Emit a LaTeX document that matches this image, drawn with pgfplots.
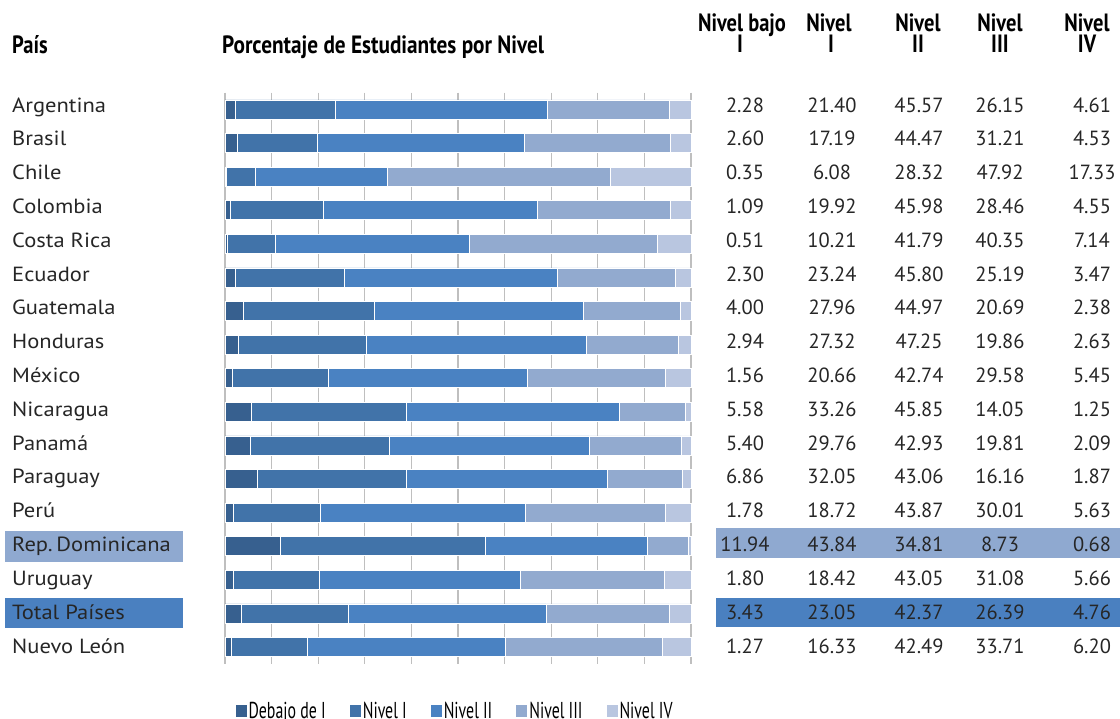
\documentclass[border=0pt]{standalone}
\usepackage{graphicx}
\usepackage{pgfplots}
\pgfplotsset{compat=1.18}
\usepackage{pgfplotstable}
\usepackage{fontspec}
\setmainfont{PT Sans}

\definecolor{cA}{RGB}{55,96,143}
\definecolor{cB}{RGB}{65,115,169}
\definecolor{cC}{RGB}{74,130,194}
\definecolor{cD}{RGB}{146,170,207}
\definecolor{cE}{RGB}{185,198,224}
\definecolor{gridgray}{RGB}{191,191,191}
\definecolor{hlDom}{RGB}{143,169,208}
\definecolor{hlTot}{RGB}{74,128,192}

% condensed bold headings and condensed legend text
\newcommand\hd[2][0.82]{\scalebox{#1}[1]{\fontsize{25pt}{26pt}\selectfont\bfseries #2}}
\newcommand\legtext[1]{\scalebox{0.69}[1]{\fontsize{23pt}{24pt}\selectfont #1}}
\newcommand\bodyfont{\fontsize{20.5pt}{21pt}\selectfont}
\newcommand\country[1]{\scalebox{1.1}[1]{#1}}

% percentage of students per level
\pgfplotstableread{
idx b1 b2 b3 b4 b5
0 2.28 21.40 45.57 26.15 4.61
1 2.60 17.19 44.47 31.21 4.53
2 0.35 6.08 28.32 47.92 17.33
3 1.09 19.92 45.98 28.46 4.55
4 0.51 10.21 41.79 40.35 7.14
5 2.30 23.24 45.80 25.19 3.47
6 4.00 27.96 44.97 20.69 2.38
7 2.94 27.32 47.25 19.86 2.63
8 1.56 20.66 42.74 29.58 5.45
9 5.58 33.26 45.85 14.05 1.25
10 5.40 29.76 42.93 19.81 2.09
11 6.86 32.05 43.06 16.16 1.87
12 1.78 18.72 43.87 30.01 5.63
13 11.94 43.84 34.81 8.73 0.68
14 1.80 18.42 43.05 31.08 5.66
15 3.43 23.05 42.37 26.39 4.76
16 1.27 16.33 42.49 33.71 6.20
}\datos

\pgfplotsset{
  common/.style={
    anchor=south west, scale only axis, width=466pt,
    xmin=0, xmax=100, ymin=-0.5, ymax=16.5, y dir=reverse,
    clip=false,
  },
  valcol/.style={
    draw=none, mark=none, forget plot,
    point meta=explicit,
    nodes near coords={\pgfmathprintnumber[fixed,fixed zerofill,precision=2,assume math mode=true]{\pgfplotspointmeta}},
    nodes near coords style={anchor=base, yshift=-7pt, inner sep=0pt, font=\bodyfont, text=black!85},
  },
}

\begin{document}
\begin{tikzpicture}[x=1pt,y=1pt]
\path[use as bounding box] (0pt,0pt) rectangle (1120pt,-719pt);

% highlighted rows
\fill[hlDom] (5pt,-531pt) rectangle (183pt,-562pt);
\fill[hlDom] (716pt,-528pt) rectangle (1120pt,-558pt);
\fill[hlTot] (5pt,-598pt) rectangle (183pt,-628pt);
\fill[hlTot] (716pt,-598pt) rectangle (1120pt,-627pt);

% stacked bars
\begin{axis}[
  common, at={(225pt,-663.8pt)}, height=571.2pt,
  xbar stacked, bar width=19pt,
  axis line style={draw=none},
  xtick={0,10,...,100}, xticklabels={}, ytick=\empty, major tick length=0pt,
  xmajorgrids, grid style={draw=gridgray, line width=1.2pt},
  legend columns=5,
  legend style={at={(0.4936,-0.064)}, anchor=north, draw=none, fill=none,
    nodes={inner xsep=2pt, inner ysep=0pt},
    /tikz/every even column/.append style={column sep=22pt}},
  legend image code/.code={\fill[#1,draw=none] (0pt,-6pt) rectangle (11pt,6pt);},
  legend entries={\legtext{Debajo de I},\legtext{Nivel I},\legtext{Nivel II},\legtext{Nivel III},\legtext{Nivel IV}},
]
\addplot[fill=cA, draw=white, line width=0.5pt] table[x=b1, y=idx] {\datos};
\addplot[fill=cB, draw=white, line width=0.5pt] table[x=b2, y=idx] {\datos};
\addplot[fill=cC, draw=white, line width=0.5pt] table[x=b3, y=idx] {\datos};
\addplot[fill=cD, draw=white, line width=0.5pt] table[x=b4, y=idx] {\datos};
\addplot[fill=cE, draw=white, line width=0.5pt] table[x=b5, y=idx] {\datos};
\end{axis}

% country names and value columns
\begin{axis}[
  common, at={(225pt,-662.9pt)}, height=574.8pt,
  axis line style={draw=none}, xtick=\empty, major tick length=0pt,
  ytick={0,...,16},
  yticklabels={\country{Argentina},\country{Brasil},\country{Chile},\country{Colombia},\country{Costa Rica},\country{Ecuador},\country{Guatemala},\country{Honduras},\country{México},\country{Nicaragua},\country{Panamá},\country{Paraguay},\country{Perú},\country{Rep.\,Dominicana},\country{Uruguay},\country{Total Países},\country{Nuevo León}},
  yticklabel style={anchor=base west, xshift=-213pt, yshift=-7pt, inner xsep=0pt, font=\bodyfont, text=black!85},
]
\addplot[valcol] table[x expr=111.59, y=idx, meta=b1] {\datos};
\addplot[valcol] table[x expr=130.26, y=idx, meta=b2] {\datos};
\addplot[valcol] table[x expr=148.93, y=idx, meta=b3] {\datos};
\addplot[valcol] table[x expr=166.31, y=idx, meta=b4] {\datos};
\addplot[valcol] table[x expr=186.05, y=idx, meta=b5] {\datos};
\end{axis}

% headings
\node[anchor=base west, inner sep=0pt] at (12pt,-54pt) {\hd{País}};
\node[anchor=base west, inner sep=0pt] at (222pt,-54pt) {\hd[0.85]{Porcentaje de Estudiantes por Nivel}};
\node[anchor=base, inner sep=0pt] at (742pt,-32pt) {\hd{Nivel bajo}};
\node[anchor=base, inner sep=0pt] at (740pt,-53pt) {\hd{I}};
\node[anchor=base, inner sep=0pt] at (829pt,-32pt) {\hd{Nivel}};
\node[anchor=base, inner sep=0pt] at (831pt,-53pt) {\hd{I}};
\node[anchor=base, inner sep=0pt] at (918pt,-32pt) {\hd{Nivel}};
\node[anchor=base, inner sep=0pt] at (918pt,-53pt) {\hd{II}};
\node[anchor=base, inner sep=0pt] at (1000pt,-32pt) {\hd{Nivel}};
\node[anchor=base, inner sep=0pt] at (1000pt,-53pt) {\hd{III}};
\node[anchor=base, inner sep=0pt] at (1087pt,-32pt) {\hd{Nivel}};
\node[anchor=base, inner sep=0pt] at (1087pt,-53pt) {\hd{IV}};
\end{tikzpicture}
\end{document}
